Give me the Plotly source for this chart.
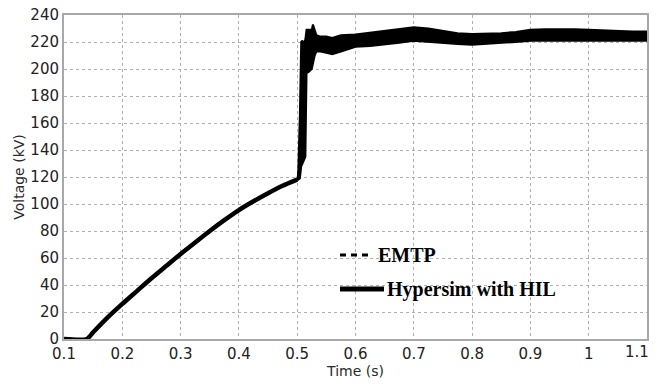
import plotly.graph_objects as go

# ---- data ----
t_ramp = [0.1, 0.139, 0.15, 0.175, 0.2, 0.225, 0.25, 0.275, 0.3, 0.325, 0.35,
          0.375, 0.4, 0.425, 0.45, 0.475, 0.5]
v_ramp = [0, 0, 5, 16, 26, 35.5, 45, 54, 63, 71.5, 80, 88, 95.5, 102, 108, 113.5, 118]

t_band = [0.5, 0.5017, 0.5046, 0.5063, 0.5069, 0.509, 0.511, 0.514, 0.516, 0.52,
          0.525, 0.527, 0.530, 0.533, 0.54, 0.55, 0.56, 0.575, 0.6, 0.625, 0.65,
          0.675, 0.7, 0.725, 0.75, 0.775, 0.8, 0.825, 0.85, 0.875, 0.9, 0.925,
          0.95, 0.975, 1.0, 1.025, 1.05, 1.075, 1.1]
v_upper = [118, 122, 166, 200, 220, 221, 218, 222, 229, 229,
           229, 233, 228, 225, 224, 224, 223, 225, 225.5, 227, 228,
           229.5, 231, 230, 228, 226.5, 226, 226, 226.5, 227.5, 229, 229.5,
           229.7, 229.5, 229, 228.5, 227.7, 227.7, 227.7]
v_lower = [118, 118, 119, 124, 128, 130, 132, 135, 197, 198,
           200, 205, 210, 213, 213, 212, 211, 213, 216.5, 217, 218,
           219.5, 221, 220, 219, 218.5, 218, 218.5, 219, 220, 221, 221.2,
           221.3, 221.2, 221, 221, 221, 221, 221]

t_emtp = t_ramp + t_band[1:]
v_emtp = v_ramp + [(a + b) / 2 for a, b in zip(v_upper[1:], v_lower[1:])]

legend_names = ["EMTP", "Hypersim with HIL"]
x_ticks = [0.1, 0.2, 0.3, 0.4, 0.5, 0.6, 0.7, 0.8, 0.9, 1.0, 1.1]
x_tick_text = ["0.1", "0.2", "0.3", "0.4", "0.5", "0.6", "0.7", "0.8", "0.9", "1", "1.1"]
y_ticks = list(range(0, 241, 20))

fig = go.Figure()

# Hypersim: thick ramp + filled oscillation band
fig.add_trace(go.Scatter(x=t_ramp, y=v_ramp, mode="lines",
                         line=dict(color="black", width=4.5, shape="spline", smoothing=0.6),
                         showlegend=False, name=legend_names[1]))
fig.add_trace(go.Scatter(x=t_band, y=v_upper, mode="lines",
                         line=dict(color="black", width=2), showlegend=False))
fig.add_trace(go.Scatter(x=t_band, y=v_lower, mode="lines", fill="tonexty",
                         fillcolor="black",
                         line=dict(color="black", width=2), showlegend=False))
# EMTP dashed (overlapping)
fig.add_trace(go.Scatter(x=t_emtp, y=v_emtp, mode="lines",
                         line=dict(color="black", width=2, dash="dash"),
                         showlegend=False, name=legend_names[0]))

# ---- layout geometry (page has an 8px body margin) ----
OFF = 8
W, H = 659 - 2 * OFF, 384 - OFF
L, T = 64 - OFF, 15 - OFF
R = (OFF + W) - 647
B = H - (339 - OFF)
pw, ph = W - L - R, H - T - B


def px(xp):
    # page pixel x -> paper fraction
    return (xp - OFF - L) / pw


def py(yp):
    # page pixel y -> paper fraction
    return (H - B - (yp - OFF)) / ph


fig.add_shape(type="line", xref="paper", yref="paper",
              x0=px(340), x1=px(373), y0=py(255), y1=py(255),
              line=dict(color="black", width=3, dash="6px,5px"))
fig.add_shape(type="line", xref="paper", yref="paper",
              x0=px(340), x1=px(384), y0=py(289), y1=py(289),
              line=dict(color="black", width=5))
fig.add_annotation(xref="paper", yref="paper", x=px(376), y=py(255),
                   xanchor="left", yanchor="middle", showarrow=False,
                   text="<b>" + legend_names[0] + "</b>",
                   font=dict(family="Liberation Serif", size=20, color="black"))
fig.add_annotation(xref="paper", yref="paper", x=px(385), y=py(289),
                   xanchor="left", yanchor="middle", showarrow=False,
                   text="<b>" + legend_names[1] + "</b>",
                   font=dict(family="Liberation Serif", size=20, color="black"))

axis_font = dict(family="DejaVu Sans", size=15, color="#222222")
title_font = dict(family="DejaVu Sans", size=14, color="#2a2a2a")

# last x tick label drawn right-anchored so it stays inside the page
shown_tick_text = x_tick_text[:-1] + [""]
fig.add_annotation(xref="paper", yref="paper", x=px(651), y=py(352),
                   xanchor="right", yanchor="middle", showarrow=False,
                   text=x_tick_text[-1], font=axis_font)

fig.update_layout(
    width=W, height=H,
    margin=dict(l=L, r=R, t=T, b=B),
    paper_bgcolor="white", plot_bgcolor="white",
    showlegend=False,
    xaxis=dict(range=[0.1, 1.1], tickvals=x_ticks, ticktext=shown_tick_text,
               showgrid=True, gridcolor="#b0b0b0", griddash="dot", gridwidth=1,
               showline=True, linecolor="#a8a8a8", linewidth=2, mirror=True,
               ticks="", zeroline=False, tickfont=axis_font, automargin=False,
               ticklabeloverflow="allow",
               title=dict(text="Time (s)", font=title_font, standoff=2)),
    yaxis=dict(range=[0, 240], tickvals=y_ticks,
               showgrid=True, gridcolor="#b0b0b0", griddash="dot", gridwidth=1,
               showline=True, linecolor="#a8a8a8", linewidth=2, mirror=True,
               ticks="", zeroline=False, tickfont=axis_font, automargin=False,
               ticklabeloverflow="allow",
               title=dict(text="Voltage (kV)", font=title_font, standoff=2)),
)

fig.write_html("out.html")
